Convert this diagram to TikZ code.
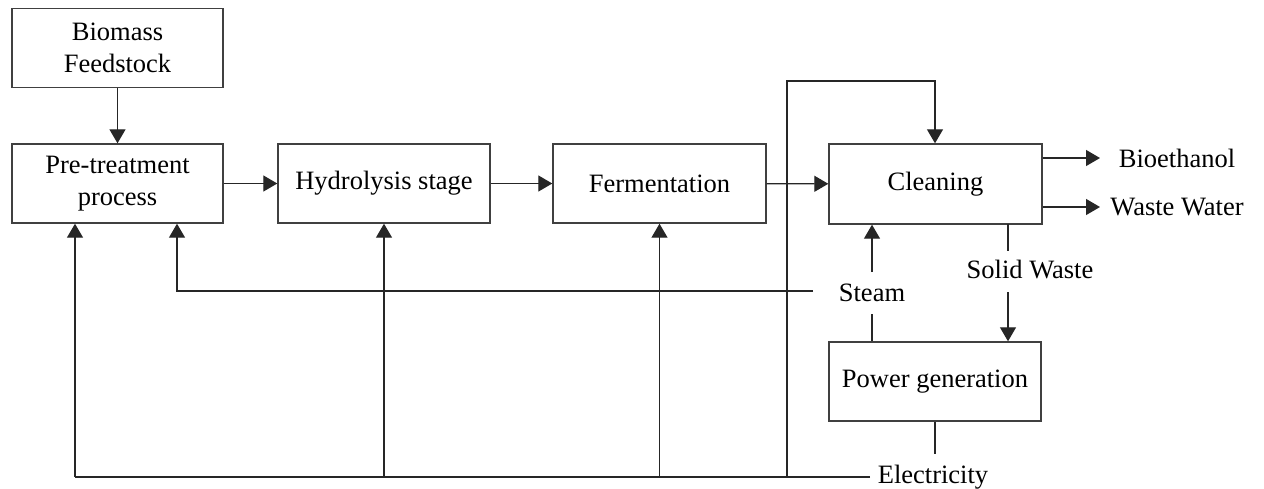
\documentclass[tikz,border=0pt]{standalone}
\usepackage{fontspec}
\setmainfont{Liberation Serif}
\usetikzlibrary{arrows.meta}
\begin{document}
\begin{tikzpicture}[x=1pt,y=-1pt,
  box/.style={draw=black!75,line width=1.4pt,minimum width=211pt,minimum height=79pt,
    align=center,inner sep=0pt,font=\fontsize{26.5}{31.5}\selectfont},
  lbl/.style={inner sep=0pt,font=\fontsize{26.5}{30}\selectfont},
  conn/.style={draw=black!85,line width=1.3pt},
  arr/.style={conn,-{Triangle[length=14pt,width=16pt]}}]
\useasboundingbox (0,0) rectangle (1264,488);

% process boxes
\node[box] (bio) at (117.5,48) {Biomass\\Feedstock};
\node[box] (pre) at (117.5,183.5) {Pre-treatment\\process};
\node[box,minimum width=212pt] (hyd) at (384,183.5) {Hydrolysis stage};
\node[box,minimum width=213pt] (fer) at (659.5,183.5) {Fermentation};
\node[box,minimum width=213pt,minimum height=80pt] (cln) at (935.5,184) {Cleaning};
\node[box,minimum width=212pt] (pow) at (935,381.5) {Power generation};

% stream labels
\node[lbl] (eth) at (1177,158) {Bioethanol};
\node[lbl] (ww) at (1177,207) {Waste Water};
\node[lbl] (steam) at (872,293) {Steam};
\node[lbl] (sw) at (1030,270) {Solid Waste};
\node[lbl] (elec) at (933,477) {Electricity};

% junction points
\coordinate (stL) at (813,291);
\coordinate (stP) at (177,291);
\coordinate (eL) at (75,477);
\coordinate (eR) at (870,477);
\coordinate (loopB) at (787,477);
\coordinate (loopT) at (787,81);
\coordinate (loopR) at (935,81);

% main line
\draw[arr] (bio) -- (pre);
\draw[arr] (pre) -- (hyd);
\draw[arr] (hyd) -- (fer);
\draw[arr] (fer) -- (cln);
\draw[arr] (cln.east |- eth) -- (1100,158);
\draw[arr] (cln.east |- ww) -- (1100,207);

% solid waste to power generation
\draw[conn] (1008,224) -- (1008,251);
\draw[arr] (1008,292) -- (pow.north -| 1008,0);

% steam
\draw[arr] (872,272) -- (cln.south -| 872,0);
\draw[conn] (872,314) -- (pow.north -| 872,0);
\draw[arr] (stL) -- (stP) -- (pre.south -| stP);

% electricity
\draw[conn] (pow.south) -- (935,454);
\draw[conn] (eR) -- (eL);
\draw[arr] (eL) -- (pre.south -| eL);
\draw[arr] (hyd.south |- eL) -- (hyd.south);
\draw[arr] (fer.south |- eL) -- (fer.south);
\draw[arr] (loopB) -- (loopT) -- (loopR) -- (cln.north -| loopR);
\end{tikzpicture}
\end{document}
